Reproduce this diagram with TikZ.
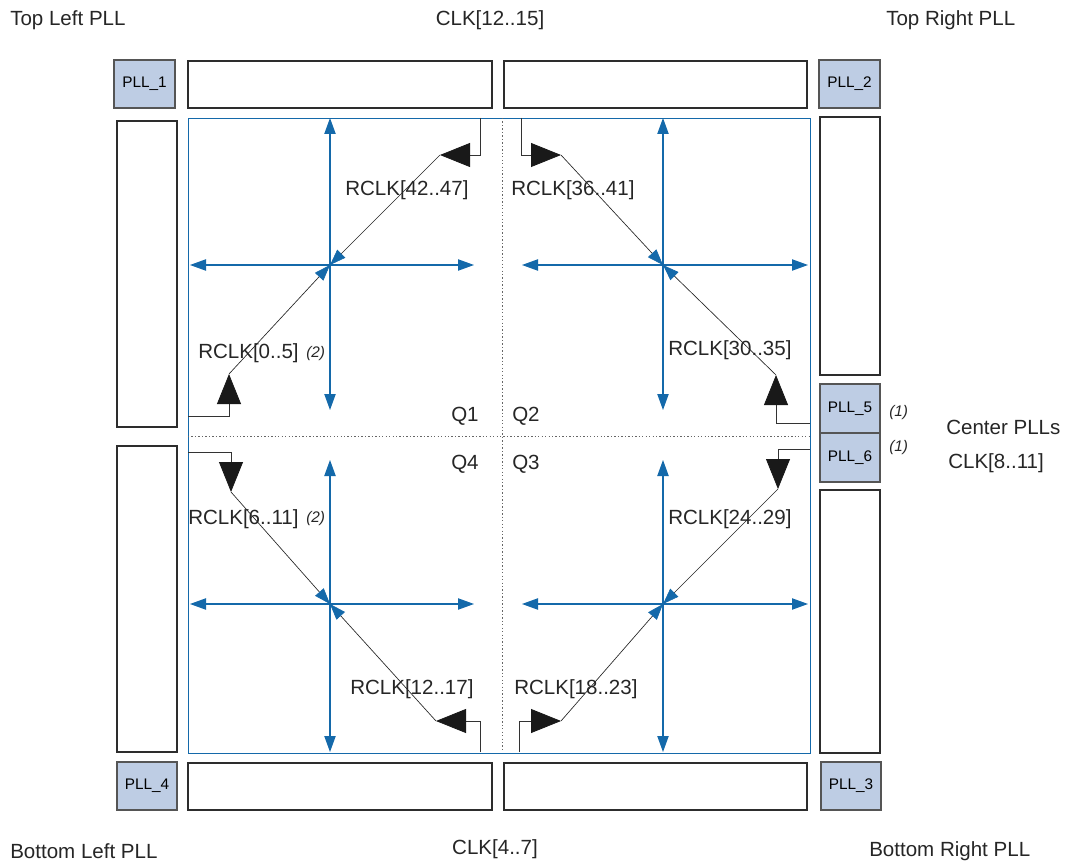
\documentclass[tikz,border=0pt]{standalone}
\usepackage{fontspec}
\setmainfont{Liberation Sans}
\usetikzlibrary{arrows.meta}
\definecolor{bl}{RGB}{20,105,170}
\definecolor{pllfill}{RGB}{190,205,228}
\definecolor{bord}{RGB}{45,45,45}
\definecolor{pllbord}{RGB}{85,85,85}
\newcommand\rbox[7]{\node[#1, minimum width={(#5-#3)*0.75pt}, minimum height={(#6-#4)*0.75pt}] (#2) at ({(#3+#5)/2},{(#4+#6)/2}) {#7};}
\begin{document}
\begin{tikzpicture}[x=0.75pt,y=-0.75pt,
 box/.style={draw=bord, line width=0.9pt, inner sep=0pt, outer sep=0pt},
 pll/.style={box, draw=pllbord, fill=pllfill, font=\fontsize{11.5}{13}\selectfont},
 core/.style={draw=bl, line width=0.7pt, inner sep=0pt, outer sep=0pt},
 lbl/.style={font=\fontsize{15.4}{18}\selectfont, inner sep=0pt, text=black!85, anchor=west},
 note/.style={font=\fontsize{11.5}{13}\selectfont\itshape, inner sep=0pt, text=black!85, anchor=west},
 cross/.style={bl, line width=0.8pt, {Triangle[length=12pt,width=8.5pt]}-{Triangle[length=12pt,width=8.5pt]}},
 feed/.style={line width=0.6pt, black!80, -{Triangle[length=22.5pt,width=18pt,color=black!90]}},
 diag/.style={line width=0.5pt, black!85, -{Triangle[length=12pt,width=8.5pt,color=bl]}},
 sep/.style={black!60, line width=0.7pt, dash pattern=on 1pt off 1.6pt},
]
\useasboundingbox (0,0) rectangle (1065,863);

% boxes
\rbox{pll}{pll1}{114}{60}{175}{108}{PLL\_1}
\rbox{box}{topL}{188}{61}{492}{108}{}
\rbox{box}{topR}{504}{61}{807}{108}{}
\rbox{pll}{pll2}{819}{60}{880}{108}{PLL\_2}
\rbox{box}{leftT}{117}{121}{177}{427}{}
\rbox{box}{leftB}{117}{446}{177}{752}{}
\rbox{box}{rightT}{820}{117}{880}{375}{}
\rbox{pll}{pll5}{820}{384}{880}{433}{PLL\_5}
\rbox{pll}{pll6}{820}{433}{880}{482}{PLL\_6}
\rbox{box}{rightB}{820}{490}{880}{753}{}
\rbox{pll}{pll4}{117}{762}{177}{810}{PLL\_4}
\rbox{box}{botL}{188}{763}{492}{810}{}
\rbox{box}{botR}{504}{763}{807}{810}{}
\rbox{pll}{pll3}{821}{762}{881}{810}{PLL\_3}
\rbox{core}{core}{188}{118}{810}{753}{}

% separators
\coordinate (vt) at (502,118); \coordinate (vb) at (502,752);
\coordinate (hl) at (188,436); \coordinate (hr) at (810,436);
\draw[sep] (vt) -- (vb);
\draw[sep] (hl) -- (hr);

% quadrant centres
\coordinate (c1) at (330,265);
\coordinate (c2) at (663,265);
\coordinate (c4) at (330,604);
\coordinate (c3) at (663,604);

% cross arrows
\coordinate (q1t) at (330,118); \coordinate (q1b) at (330,410);
\coordinate (q1l) at (190,265); \coordinate (q1r) at (474,265);
\coordinate (q2t) at (663,118); \coordinate (q2b) at (663,410);
\coordinate (q2l) at (522,265); \coordinate (q2r) at (808,265);
\coordinate (q4t) at (330,460); \coordinate (q4b) at (330,752);
\coordinate (q4l) at (190,604); \coordinate (q4r) at (474,604);
\coordinate (q3t) at (663,460); \coordinate (q3b) at (663,752);
\coordinate (q3l) at (522,604); \coordinate (q3r) at (808,604);
\draw[cross] (q1t) -- (q1b); \draw[cross] (q1l) -- (q1r);
\draw[cross] (q2t) -- (q2b); \draw[cross] (q2l) -- (q2r);
\draw[cross] (q4t) -- (q4b); \draw[cross] (q4l) -- (q4r);
\draw[cross] (q3t) -- (q3b); \draw[cross] (q3l) -- (q3r);

% feed points and tips
\coordinate (s1a) at (480,118); \coordinate (t1a) at (440,155);
\coordinate (s1b) at (188,416); \coordinate (t1b) at (229,374);
\coordinate (s2a) at (521,118); \coordinate (t2a) at (561,155);
\coordinate (s2b) at (810,423); \coordinate (t2b) at (776,375);
\coordinate (s3a) at (810,449); \coordinate (t3a) at (778,489);
\coordinate (s3b) at (519,752); \coordinate (t3b) at (561,721);
\coordinate (s4a) at (188,452); \coordinate (t4a) at (231,492);
\coordinate (s4b) at (480,752); \coordinate (t4b) at (436,721);

\draw[feed] (s1a) |- (t1a);
\draw[feed] (s1b) -| (t1b);
\draw[feed] (s2a) |- (t2a);
\draw[feed] (s2b) -| (t2b);
\draw[feed] (s3a) -| (t3a);
\draw[feed] (s3b) |- (t3b);
\draw[feed] (s4a) -| (t4a);
\draw[feed] (s4b) |- (t4b);

\draw[diag] (t1a) -- (c1);
\draw[diag] (t1b) -- (c1);
\draw[diag] (t2a) -- (c2);
\draw[diag] (t2b) -- (c2);
\draw[diag] (t3a) -- (c3);
\draw[diag] (t3b) -- (c3);
\draw[diag] (t4a) -- (c4);
\draw[diag] (t4b) -- (c4);

% labels
\node[lbl] (tl) at (10,20) {Top Left PLL};
\node[lbl, anchor=center] (clkt) at (490,20) {CLK[12..15]};
\node[lbl] (tr) at (886,20) {Top Right PLL};
\node[lbl] (cp) at (946,427) {Center PLLs};
\node[lbl] (clkc) at (948,463) {CLK[8..11]};
\node[note] (n5) at (889,413) {(1)};
\node[note] (n6) at (889,448) {(1)};
\node[lbl] (bl) at (10,851) {Bottom Left PLL};
\node[lbl, anchor=center] (clkb) at (495,849) {CLK[4..7]};
\node[lbl] (br) at (869,851) {Bottom Right PLL};

\node[lbl] (Q1) at (451,416) {Q1};
\node[lbl] (Q2) at (512,416) {Q2};
\node[lbl] (Q4) at (451,464) {Q4};
\node[lbl] (Q3) at (512,464) {Q3};

\node[lbl] (r1) at (345,190) {RCLK[42..47]};
\node[lbl] (r2) at (511,190) {RCLK[36..41]};
\node[lbl] (r3) at (198,353) {RCLK[0..5]};
\node[note] (n3) at (306,354) {(2)};
\node[lbl] (r4) at (668,350) {RCLK[30..35]};
\node[lbl] (r5) at (188,519) {RCLK[6..11]};
\node[note] (n5b) at (306,519) {(2)};
\node[lbl] (r6) at (668,519) {RCLK[24..29]};
\node[lbl] (r7) at (350,689) {RCLK[12..17]};
\node[lbl] (r8) at (514,689) {RCLK[18..23]};
\end{tikzpicture}
\end{document}
